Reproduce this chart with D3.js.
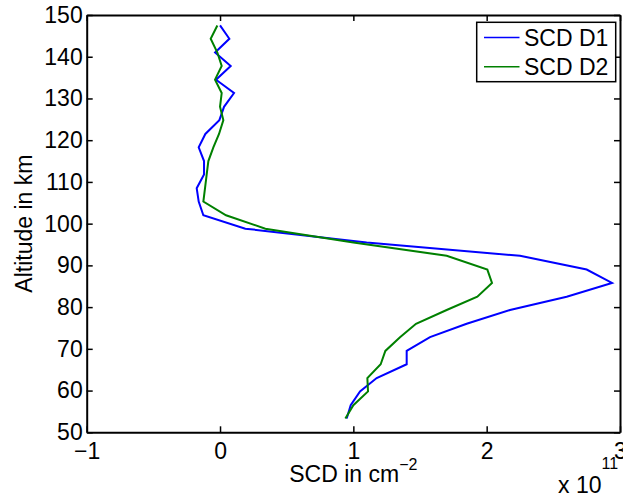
<!DOCTYPE html>
<html>
<head>
<meta charset="utf-8">
<script src="https://cdn.jsdelivr.net/npm/d3@7"></script>
<style>
  body { margin: 0; background: #fff; }
  svg { display: block; font-family: "Liberation Sans", Arial, sans-serif; }
</style>
</head>
<body>
<div id="chart"></div>
<script>
// altitude grid (km)
const altitudes = [53.3, 56.5, 59.8, 63.0, 66.3, 69.5, 72.8, 76.0, 79.3, 82.5,
    85.8, 89.0, 92.3, 95.5, 98.8, 102.0, 105.3, 108.5, 111.8, 115.0,
    118.3, 121.5, 124.8, 128.0, 131.3, 134.5, 137.8, 141.0, 144.3, 147.5];

// SCD values in units of 1e11 cm^-2
const scdD1 = [0.95, 0.98, 1.05, 1.175, 1.40, 1.40, 1.575, 1.85, 2.175, 2.60,
    2.94, 2.75, 2.25, 1.10, 0.19, -0.125, -0.16, -0.175, -0.12, -0.12,
    -0.16, -0.11, -0.005, 0.03, 0.105, -0.03, 0.08, -0.037, 0.07, 0.0];
const scdD2 = [0.94, 1.0, 1.11, 1.105, 1.205, 1.24, 1.35, 1.47, 1.70, 1.93,
    2.04, 2.005, 1.70, 1.0, 0.34, 0.045, -0.125, -0.1125, -0.10, -0.0875,
    -0.05, -0.0075, 0.025, 0.0, 0.0125, -0.0375, 0.0125, -0.02, -0.07, -0.02];

const seriesNames = ["SCD D1", "SCD D2"];
const seriesColors = ["#0000ff", "#008000"];
const xTicks = [-1, 0, 1, 2, 3];
const yTicks = [50, 60, 70, 80, 90, 100, 110, 120, 130, 140, 150];

const W = 623, H = 497;
const plot = { left: 86.7, right: 620, top: 15, bottom: 432.3 };
const fontSize = 23;

const svg = d3.select("#chart").append("svg")
    .attr("width", W)
    .attr("height", H);

const x = d3.scaleLinear().domain([-1, 3]).range([plot.left, plot.right]);
const y = d3.scaleLinear().domain([50, 150]).range([plot.bottom, plot.top]);
const fmt = d3.format("d");

// axes, ticks pointing inward like matlab
const styleAxis = (g) => {
    g.attr("font-family", null).attr("font-size", null);
    g.selectAll(".domain").attr("stroke", "#000").attr("stroke-width", 2);
    g.selectAll(".tick line").attr("stroke", "#000").attr("stroke-width", 1.5);
    g.selectAll(".tick text").attr("fill", "#000").style("font-size", fontSize + "px");
};

svg.append("g")
    .attr("transform", "translate(0," + plot.bottom + ")")
    .call(d3.axisBottom(x).tickValues(xTicks).tickFormat(fmt).tickSizeInner(-6).tickSizeOuter(0).tickPadding(10))
    .call(styleAxis);

svg.append("g")
    .attr("transform", "translate(0," + plot.top + ")")
    .call(d3.axisTop(x).tickValues(xTicks).tickSizeInner(-6).tickSizeOuter(0).tickFormat(""))
    .call(styleAxis);

svg.append("g")
    .attr("transform", "translate(" + plot.left + ",0)")
    .call(d3.axisLeft(y).tickValues(yTicks).tickFormat(fmt).tickSizeInner(-6).tickSizeOuter(0).tickPadding(4))
    .call(styleAxis);

svg.append("g")
    .attr("transform", "translate(" + plot.right + ",0)")
    .call(d3.axisRight(y).tickValues(yTicks).tickSizeInner(-6).tickSizeOuter(0).tickFormat(""))
    .call(styleAxis);

// data lines
const series = [scdD1, scdD2].map((vals, i) => ({
    name: seriesNames[i],
    color: seriesColors[i],
    points: vals.map((v, j) => ({ v: v, alt: altitudes[j] }))
}));

const line = d3.line()
    .x((d) => x(d.v))
    .y((d) => y(d.alt));

svg.append("g")
    .selectAll("path")
    .data(series)
    .enter()
    .append("path")
    .attr("d", (d) => line(d.points))
    .attr("fill", "none")
    .attr("stroke", (d) => d.color)
    .attr("stroke-width", 2)
    .attr("stroke-linejoin", "miter");

// axis labels
svg.append("text")
    .attr("transform", "translate(32," + (plot.top + plot.bottom) / 2 + ") rotate(-90)")
    .attr("text-anchor", "middle")
    .style("font-size", fontSize + "px")
    .text("Altitude in km");

const xl = svg.append("text")
    .attr("x", (plot.left + plot.right) / 2)
    .attr("y", 482)
    .attr("text-anchor", "middle")
    .style("font-size", fontSize + "px");
xl.append("tspan").text("SCD in cm");
xl.append("tspan").attr("dy", -12).style("font-size", "16px").text("−2");

// exponent label
const ex = svg.append("text")
    .attr("x", 558)
    .attr("y", 493)
    .style("font-size", fontSize + "px");
ex.append("tspan").text("x 10");
ex.append("tspan").attr("dy", -24).style("font-size", "16px").text("11");

// legend
const legend = svg.append("g");
legend.append("rect")
    .attr("x", 476.7).attr("y", 22.3)
    .attr("width", 139).attr("height", 59.4)
    .attr("fill", "#fff")
    .attr("stroke", "#000")
    .attr("stroke-width", 1.5);

series.forEach((s, i) => {
    const ly = 37.5 + i * 29.3;
    legend.append("line")
        .attr("x1", 484).attr("x2", 519.5)
        .attr("y1", ly).attr("y2", ly)
        .attr("stroke", s.color)
        .attr("stroke-width", 1.5);
    legend.append("text")
        .attr("x", 524)
        .attr("y", ly + 8.5)
        .style("font-size", fontSize + "px")
        .text(s.name);
});
</script>
</body>
</html>
